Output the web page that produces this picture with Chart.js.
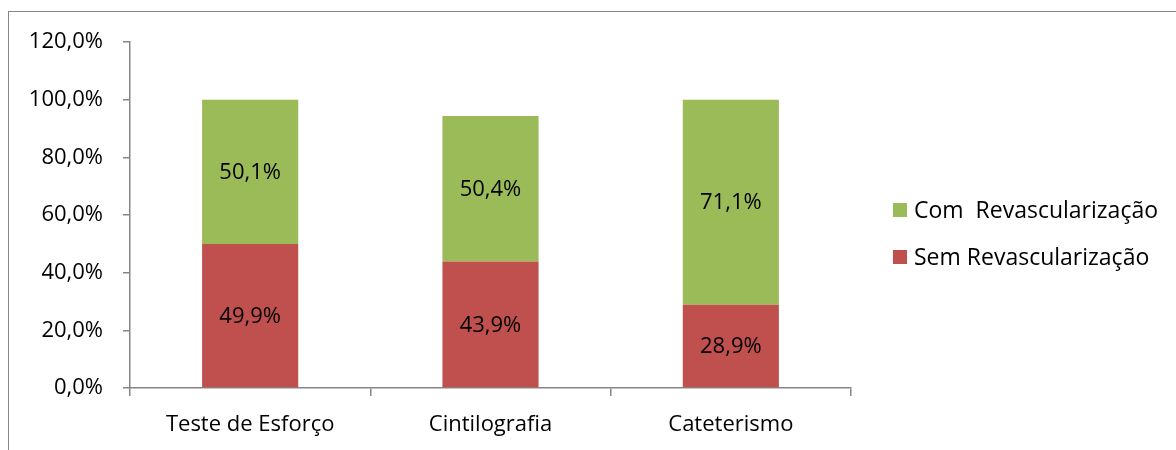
<!DOCTYPE html>
<html lang="pt">
<head>
<meta charset="utf-8">
<title>Revascularização por exame</title>
<script src="https://cdn.jsdelivr.net/npm/chart.js@4/dist/chart.umd.min.js"></script>
<style>
  html, body { margin: 0; padding: 0; background: #fff; overflow: hidden; }
  #wrap { position: relative; width: 1176px; height: 450px; }
  #frame {
    position: absolute; left: 8px; top: 11px; width: 1300px; height: 600px;
    border: 1px solid #868686; box-sizing: border-box;
  }
  canvas { position: absolute; left: 0; top: 0; }
</style>
</head>
<body>
<div id="wrap">
  <div id="frame"></div>
  <canvas id="chart" width="1176" height="450"></canvas>
</div>
<script>
// Exames e percentuais por grupo
const categories = ["Teste de Esforço", "Cintilografia", "Cateterismo"];
const semRevasc = [49.9, 43.9, 28.9];
const comRevasc = [50.1, 50.4, 71.1];
const yTicks = [0, 20, 40, 60, 80, 100, 120];

const seriesNames = ["Sem Revascularização", "Com  Revascularização"];
const RED = "#C0504D";
const GREEN = "#9BBB59";
const AXIS = "#868686";
const FONT = "'Open Sans', 'Noto Sans', sans-serif";
const SIZE = 22;

const pct = (v) => v.toFixed(1).replace(".", ",") + "%";

// Percent labels centered in each stacked segment
const segmentLabels = {
  id: "segmentLabels",
  afterDatasetsDraw(chart) {
    const ctx = chart.ctx;
    ctx.save();
    ctx.font = SIZE + "px " + FONT;
    ctx.fillStyle = "#000";
    ctx.textAlign = "center";
    ctx.textBaseline = "middle";
    chart.data.datasets.forEach((ds, i) => {
      chart.getDatasetMeta(i).data.forEach((bar, j) => {
        const mid = (bar.y + bar.base) / 2;
        ctx.fillText(pct(ds.data[j]), bar.x, mid + 1);
      });
    });
    ctx.restore();
  }
};

// Legend on the right, green entry first
const sideLegend = {
  id: "sideLegend",
  afterDraw(chart) {
    const ctx = chart.ctx;
    const rows = [
      { name: seriesNames[1], color: GREEN, y: 210 },
      { name: seriesNames[0], color: RED, y: 257 }
    ];
    ctx.save();
    ctx.font = (SIZE + 1) + "px " + FONT;
    ctx.textBaseline = "middle";
    ctx.textAlign = "left";
    rows.forEach((r) => {
      ctx.fillStyle = r.color;
      ctx.fillRect(893, r.y - 7, 14, 14);
      ctx.fillStyle = "#000";
      ctx.fillText(r.name, 914, r.y + 1);
    });
    ctx.restore();
  }
};

new Chart(document.getElementById("chart"), {
  type: "bar",
  data: {
    labels: categories,
    datasets: [
      { label: seriesNames[0], data: semRevasc, backgroundColor: RED, borderWidth: 0 },
      { label: seriesNames[1], data: comRevasc, backgroundColor: GREEN, borderWidth: 0 }
    ]
  },
  options: {
    responsive: false,
    animation: false,
    devicePixelRatio: 1,
    layout: { padding: { top: 42, right: 325, bottom: 0, left: 0 } },
    categoryPercentage: 1,
    barPercentage: 0.4,
    plugins: {
      legend: { display: false },
      tooltip: { enabled: false }
    },
    scales: {
      x: {
        stacked: true,
        afterFit: (s) => { s.height = 62; },
        border: { color: AXIS, width: 1.5 },
        grid: {
          offset: true,
          drawOnChartArea: false,
          drawTicks: true,
          tickLength: 8,
          color: AXIS,
          lineWidth: 1.5
        },
        ticks: {
          color: "#000",
          padding: 16,
          font: { family: FONT, size: SIZE }
        }
      },
      y: {
        stacked: true,
        min: 0,
        max: 120,
        afterFit: (s) => { s.width = 130; },
        afterBuildTicks: (s) => { s.ticks = yTicks.map((v) => ({ value: v })); },
        border: { color: AXIS, width: 1.5 },
        grid: {
          drawOnChartArea: false,
          drawTicks: true,
          tickLength: 7,
          color: AXIS,
          lineWidth: 1.5
        },
        ticks: {
          color: "#000",
          padding: 20,
          font: { family: FONT, size: SIZE },
          callback: (v) => pct(v)
        }
      }
    }
  },
  plugins: [segmentLabels, sideLegend]
});
</script>
</body>
</html>
